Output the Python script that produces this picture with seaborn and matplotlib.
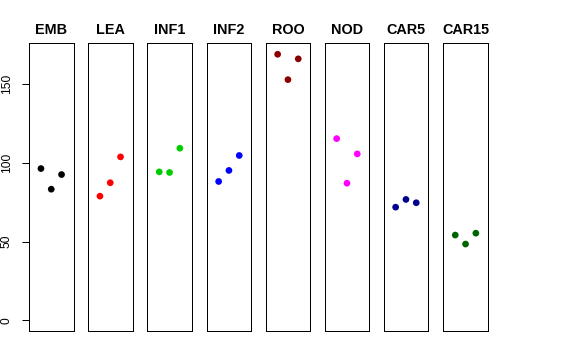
import matplotlib
matplotlib.use("Agg")
import matplotlib.pyplot as plt
import seaborn as sns
import pandas as pd

sns.set_style("white")
plt.rcParams['font.family'] = ['Liberation Sans', 'DejaVu Sans']
plt.rcParams['text.color'] = 'black'
plt.rcParams['axes.labelcolor'] = 'black'
plt.rcParams['ytick.color'] = 'black'
plt.rcParams['xtick.color'] = 'black'

tissues = ["EMB", "LEA", "INF1", "INF2", "ROO", "NOD", "CAR5", "CAR15"]
colors = ["black", "#FF0000", "#00CD00", "#0000FF", "#8B0000", "#FF00FF", "#00008B", "#006400"]
reps = [1, 2, 3]
emb = [96.3, 83.2, 92.5]
lea = [78.8, 87.3, 103.7]
inf1 = [94.2, 93.8, 109.2]
inf2 = [88.1, 95.1, 104.6]
roo = [168.8, 152.7, 165.9]
nod = [115.3, 87.0, 105.6]
car5 = [71.8, 76.7, 74.6]
car15 = [54.1, 48.4, 55.3]
yticks = [0, 50, 100, 150]

values = [emb, lea, inf1, inf2, roo, nod, car5, car15]
rows = []
for t, vals in zip(tissues, values):
    for r, v in zip(reps, vals):
        rows.append({"tissue": t, "rep": r, "value": v})
df = pd.DataFrame(rows)

W, H = 576, 360
fig = plt.figure(figsize=(W / 72, H / 72), dpi=72)
lefts = [29, 88, 147.3, 206.7, 265.7, 324.7, 383.7, 443.3]
pw = 44.5
bottom_px, top_px = 331, 43.3
for i, (t, c) in enumerate(zip(tissues, colors)):
    ax = fig.add_axes([lefts[i] / W, (H - bottom_px) / H, pw / W, (bottom_px - top_px) / H])
    sub = df[df.tissue == t]
    sns.scatterplot(data=sub, x="rep", y="value", color=c, s=45, edgecolor="none", ax=ax, legend=False)
    ax.set_xlim(-0.16, 4.16)
    ax.set_ylim(-6.76, 175.76)
    ax.set_xlabel("")
    ax.set_ylabel("")
    ax.set_xticks([])
    for s in ax.spines.values():
        s.set_color("black")
        s.set_linewidth(1)
    ax.set_title(t, fontsize=14.4, fontweight="bold", pad=9, color="black")
    if i == 0:
        ax.set_yticks(yticks)
        ax.set_yticklabels([str(v) for v in yticks], rotation=90, va="center", fontsize=12, color="black")
        ax.tick_params(axis="y", left=True, length=7, width=1, pad=9, color="black")
    else:
        ax.set_yticks([])

fig.savefig("out.png", dpi=72)
